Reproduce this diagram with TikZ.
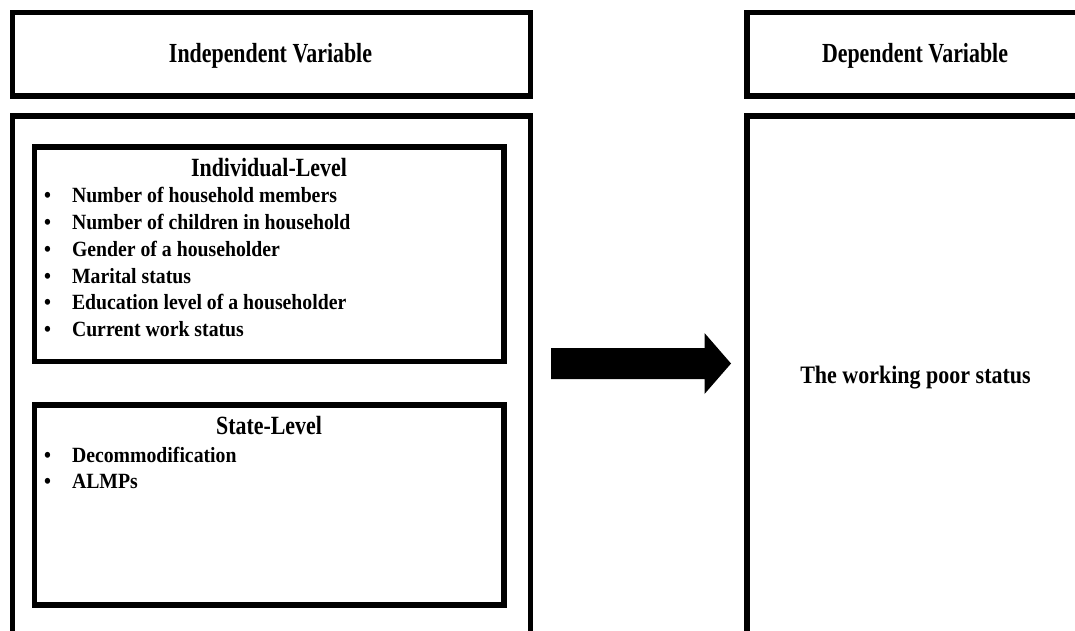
\documentclass[tikz,border=0pt]{standalone}
\usepackage{graphicx}
\usepackage{fontspec}
\setmainfont{Liberation Serif}
\usetikzlibrary{calc}
\newcommand\vstretch[2]{\scalebox{1}[#1]{#2}}
\begin{document}
\begin{tikzpicture}[x=1pt,y=-1pt,
  frame/.style={draw=black, line width=5.5pt, outer sep=0pt, inner sep=0pt, fill=white},
  txt/.style={inner sep=0pt, outer sep=0pt},
  ttlfont/.style={font=\fontsize{21.9}{26}\selectfont\bfseries},
  subfont/.style={font=\fontsize{21.9}{26}\selectfont\bfseries},
  itmfont/.style={font=\fontsize{19.75}{23}\selectfont\bfseries},
]
\useasboundingbox (0,0) rectangle (1075,630);
\clip (0,0) rectangle (1075,630);
\fill[white] (0,0) rectangle (1075,630);

% frames
\node[frame, minimum width=518pt, minimum height=83.5pt] (ivh) at (271.5,54.25) {};
\node[frame, minimum width=518pt, minimum height=544pt] (ivm) at (271.5,388) {};
\node[frame, minimum width=469.5pt, minimum height=214.5pt] (ind) at (269.25,254.25) {};
\node[frame, minimum width=469.5pt, minimum height=200pt] (sta) at (269.25,505) {};
\node[frame, minimum width=353pt, minimum height=83.5pt] (dvh) at (923.5,54.25) {};
\node[frame, minimum width=353pt, minimum height=544pt] (dvm) at (923.5,388) {};

% titles
\node[txt, ttlfont, anchor=base] (ivt) at (270.5,62) {\vstretch{1.26}{Independent Variable}};
\node[txt, ttlfont, anchor=base] (dvt) at (915,62) {\vstretch{1.26}{Dependent Variable}};

% individual level
\node[txt, subfont, anchor=base] (indt) at (269,176) {\vstretch{1.2}{Individual-Level}};
\foreach \t [count=\i] in {Number of household members, Number of children in household, Gender of a householder, Marital status, Education level of a householder, Current work status}{
  \node[txt, itmfont, anchor=base west] (ib\i) at (44,{202.7+26.8*(\i-1)}) {\vstretch{1.1}{•}};
  \node[txt, itmfont, anchor=base west] (it\i) at (72,{202.7+26.8*(\i-1)}) {\vstretch{1.1}{\t}};
}

% state level
\node[txt, subfont, anchor=base] (stt) at (269,434) {\vstretch{1.2}{State-Level}};
\foreach \t [count=\i] in {Decommodification, ALMPs}{
  \node[txt, itmfont, anchor=base west] (sb\i) at (44,{462+26.8*(\i-1)}) {\vstretch{1.1}{•}};
  \node[txt, itmfont, anchor=base west] (st\i) at (72,{462+26.8*(\i-1)}) {\vstretch{1.1}{\t}};
}

% dependent content
\node[txt, font=\fontsize{22}{26}\selectfont\bfseries, anchor=base] (wp) at (915.5,383) {\vstretch{1.14}{The working poor status}};

% block arrow
\coordinate (as) at (551,363.5);
\coordinate (at) at (731,363.5);
\fill[black] ($(as)+(0,-15.5)$) -- (704.5,348) -- (704.5,333) -- (at) -- (704.5,394) -- (704.5,379) -- ($(as)+(0,15.5)$) -- cycle;
\end{tikzpicture}
\end{document}
